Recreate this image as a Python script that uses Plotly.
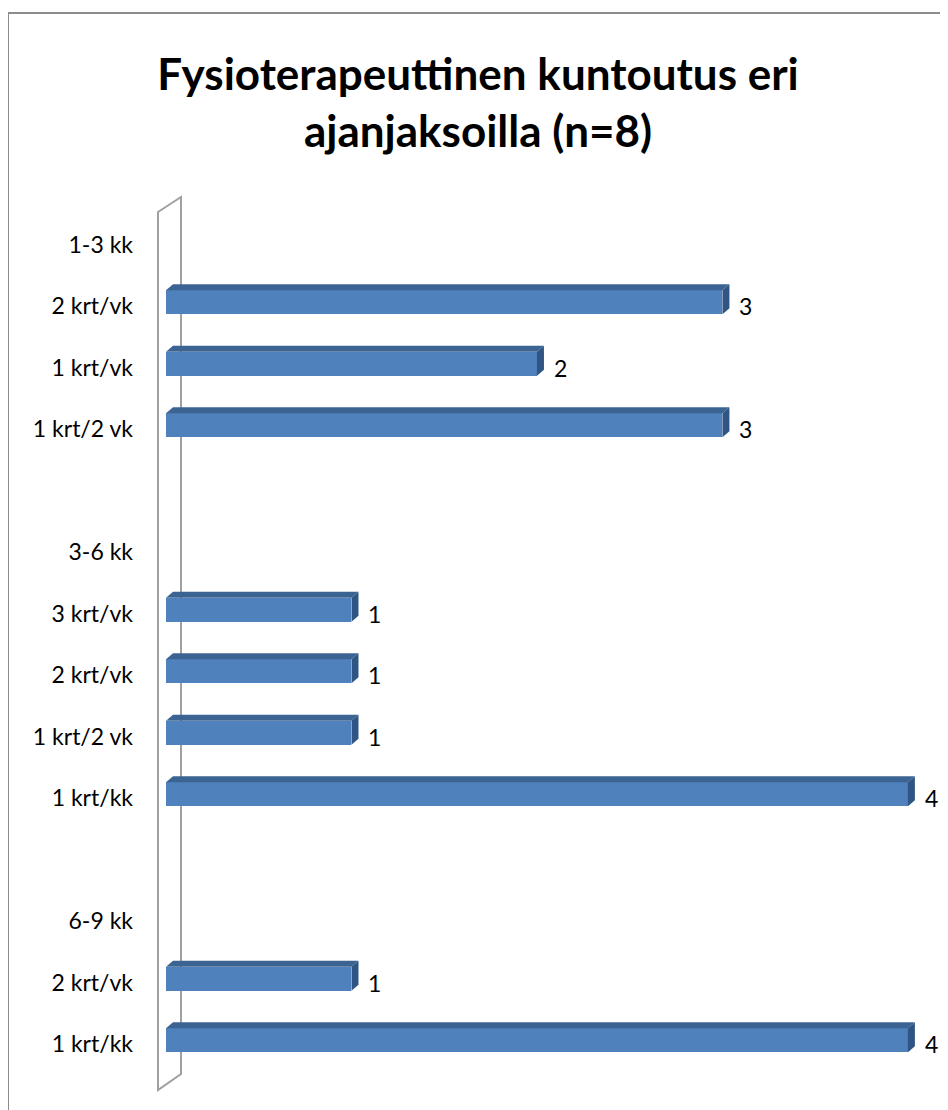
import plotly.graph_objects as go

# ---- data ----
categories = ["1-3 kk", "2 krt/vk", "1 krt/vk", "1 krt/2 vk", "",
              "3-6 kk", "3 krt/vk", "2 krt/vk", "1 krt/2 vk", "1 krt/kk", "",
              "6-9 kk", "2 krt/vk", "1 krt/kk"]
values = [None, 3, 2, 3, None,
          None, 1, 1, 1, 4, None,
          None, 1, 4]
title_text = "Fysioterapeuttinen kuntoutus eri<br>ajanjaksoilla (n=8)"

# ---- layout geometry (page body has an 8px margin) ----
OFF = 8
W, H = 948 - OFF, 1110 - OFF
PLOT_X0, PLOT_X1 = 166, 945      # in page pixels
PLOT_Y0, PLOT_Y1 = 214, 1075
L = PLOT_X0 - OFF
R = W - (PLOT_X1 - OFF)
T = PLOT_Y0 - OFF
B = H - (PLOT_Y1 - OFF)
XMAX = 4.2
plot_w = W - L - R
plot_h = H - T - B
n = len(categories)
px_per_x = plot_w / XMAX
px_per_row = plot_h / n

FRONT = "#4F81BD"
TOP = "#3C6493"
SIDE = "#2F5584"

DX_PX, DY_PX = 7, 6          # 3D depth offset in pixels
dx = DX_PX / px_per_x
dy = DY_PX / px_per_row
BAR_W = 24 / px_per_row
BAR_OFF = -16 / px_per_row

FONT = "Lato"

idx = list(range(n))
fig = go.Figure()

fig.add_trace(go.Bar(
    y=idx, x=values, orientation="h",
    width=BAR_W, offset=BAR_OFF,
    marker=dict(color=FRONT, line=dict(width=0)),
    hoverinfo="skip", showlegend=False,
))

# depth faces built from the data
for i, v in zip(idx, values):
    if v is None:
        continue
    ytop = i + BAR_OFF
    ybot = ytop + BAR_W
    fig.add_trace(go.Scatter(
        x=[0, dx, v + dx, v, 0], y=[ytop, ytop - dy, ytop - dy, ytop, ytop],
        fill="toself", fillcolor=TOP, mode="lines", line=dict(width=0),
        hoverinfo="skip", showlegend=False))
    fig.add_trace(go.Scatter(
        x=[v, v + dx, v + dx, v, v], y=[ytop, ytop - dy, ybot - dy, ybot, ytop],
        fill="toself", fillcolor=SIDE, mode="lines", line=dict(width=0),
        hoverinfo="skip", showlegend=False))
    fig.add_annotation(x=v, y=i, text=str(v), showarrow=False,
                       xanchor="left", yanchor="middle", xshift=15, yshift=0,
                       font=dict(size=23, color="#000000", family=FONT))

# wall (axis decoration) and outer border, given in page pixels
def px2paper_x(p):
    return (p - PLOT_X0) / plot_w

def py2paper_y(p):
    return (PLOT_Y1 - p) / plot_h

path = "M {a},{b} L {c},{d} L {c},{e} L {a},{f} Z".format(
    a=px2paper_x(158), b=py2paper_y(212), c=px2paper_x(181), d=py2paper_y(197),
    e=py2paper_y(1074), f=py2paper_y(1090))
fig.add_shape(type="path", path=path, xref="paper", yref="paper",
              line=dict(color="#A0A0A0", width=2), layer="below")
fig.add_shape(type="rect", xref="paper", yref="paper",
              x0=px2paper_x(8), y0=py2paper_y(1140), x1=px2paper_x(980), y1=py2paper_y(13),
              line=dict(color="#8C8C8C", width=2))

fig.update_layout(
    width=W, height=H,
    margin=dict(l=L, r=R, t=T, b=B),
    paper_bgcolor="white", plot_bgcolor="white",
    title=dict(text=title_text, x=(478 - OFF) / W, xanchor="center",
               y=1 - (90 - OFF) / H, yanchor="middle", xref="container", yref="container",
               font=dict(family=FONT, size=44, color="#000000", weight="bold")),
    xaxis=dict(range=[0, XMAX], showgrid=False, zeroline=False,
               showticklabels=False, ticks="", showline=False),
    yaxis=dict(range=[n - 0.5, -0.5], tickmode="array", tickvals=idx,
               ticktext=categories, showgrid=False, zeroline=False,
               showline=False, ticks="", ticklabelstandoff=32,
               tickfont=dict(family=FONT, size=23, color="#000000")),
    bargap=0,
)

fig.write_html("out.html")
